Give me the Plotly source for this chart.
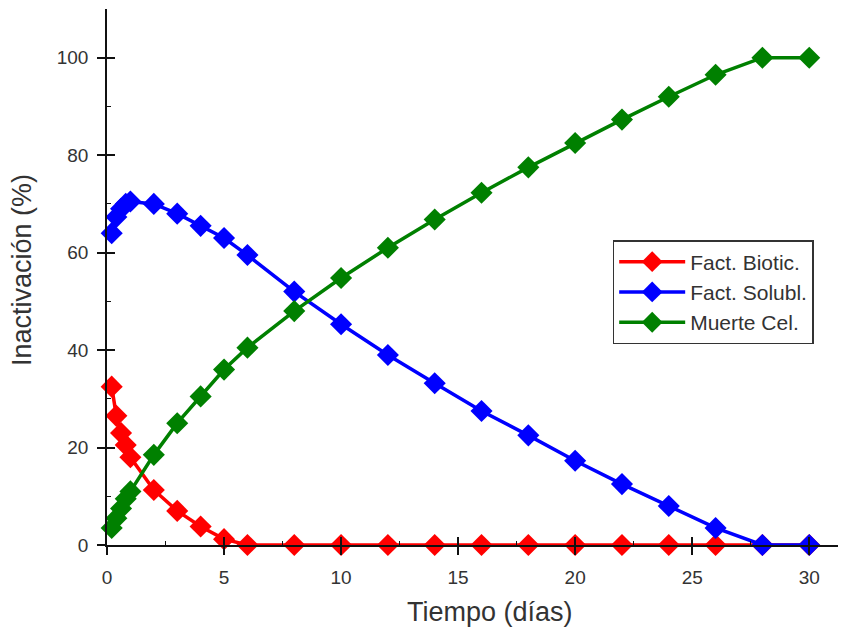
import plotly.graph_objects as go

time_early = [0.2, 0.4, 0.6, 0.8, 1.0]
time_late = [2, 3, 4, 5, 6, 8, 10, 12, 14, 16, 18, 20, 22, 24, 26, 28, 30]
time = time_early + time_late

fact_biotic = [32.5, 26.5, 23.0, 20.5, 18.0,
               11.3, 7.0, 3.8, 1.2, 0, 0, 0, 0, 0, 0, 0, 0, 0, 0, 0, 0, 0]
fact_solubl = [64.0, 67.3, 69.0, 70.0, 70.5,
               70.0, 68.0, 65.5, 63.0, 59.5, 52.0, 45.3, 39.0, 33.2, 27.5, 22.5, 17.3, 12.5, 8.0, 3.5, 0, 0]
muerte_cel = [3.5, 5.5, 7.5, 9.5, 11.0,
              18.5, 25.0, 30.5, 36.0, 40.5, 48.0, 54.8, 61.0, 66.8, 72.3, 77.5, 82.5, 87.3, 92.0, 96.5, 100.0, 100.0]

series = [
    ("Fact. Biotic.", fact_biotic, "#ff0000"),
    ("Fact. Solubl.", fact_solubl, "#0000ff"),
    ("Muerte Cel.", muerte_cel, "#008000"),
]

x_ticks = [0, 5, 10, 15, 20, 25, 30]
y_ticks = [0, 20, 40, 60, 80, 100]

fig = go.Figure()
for name, vals, col in series:
    fig.add_trace(go.Scatter(
        x=time, y=vals, name=name, mode="lines+markers",
        line=dict(color=col, width=3.5),
        marker=dict(symbol="diamond", size=17, color=col),
        cliponaxis=False,
    ))

font = "Liberation Sans, Arial, sans-serif"
xr = [0, 31.4]
yr = [0, 110]
common = dict(showgrid=False, zeroline=False, showline=True, linecolor="#111", linewidth=1.5,
              tickcolor="#111", tickwidth=1.5, ticklen=8, automargin=False)

fig.update_layout(
    width=846, height=634,
    margin=dict(l=99, r=12, t=1, b=97),
    paper_bgcolor="white", plot_bgcolor="white",
    font=dict(family=font, color="#333", size=19),
    xaxis=dict(range=xr, tickvals=x_ticks, ticks="outside", tickfont=dict(size=19),
               ticklabelstandoff=6, **common),
    yaxis=dict(range=yr, tickvals=y_ticks, ticks="outside", tickfont=dict(size=19),
               ticklabelstandoff=5, **common),
    xaxis2=dict(range=xr, overlaying="x", anchor="y2", side="bottom", tickvals=x_ticks,
                ticks="inside", showticklabels=False,
                minor=dict(tickvals=[2.5, 7.5, 12.5, 17.5, 22.5, 27.5], ticks="inside",
                           ticklen=4, tickcolor="#111", tickwidth=1.2),
                **common),
    yaxis2=dict(range=yr, overlaying="y", anchor="x2", side="left", tickvals=y_ticks,
                ticks="inside", showticklabels=False,
                minor=dict(tickvals=[10, 30, 50, 70, 90], ticks="inside",
                           ticklen=4, tickcolor="#111", tickwidth=1.2),
                **common),
    legend=dict(x=0.688, y=0.569, xanchor="left", yanchor="top",
                bgcolor="white", bordercolor="#333", borderwidth=1.5,
                font=dict(size=21, color="#333"), itemwidth=66,
                tracegroupgap=0),
    showlegend=True,
    annotations=[
        dict(text="Tiempo (días)", xref="paper", yref="paper", x=0.521, y=-0.125,
             xanchor="center", yanchor="middle", showarrow=False, font=dict(size=27, color="#333")),
        dict(text="Inactivación (%)", xref="paper", yref="paper", x=-0.1156, y=0.513,
             xanchor="center", yanchor="middle", showarrow=False, textangle=-90,
             font=dict(size=27, color="#333")),
    ],
)
fig.add_trace(go.Scatter(x=[], y=[], xaxis="x2", yaxis="y2", showlegend=False, hoverinfo="skip"))

fig.write_html("out.html")
